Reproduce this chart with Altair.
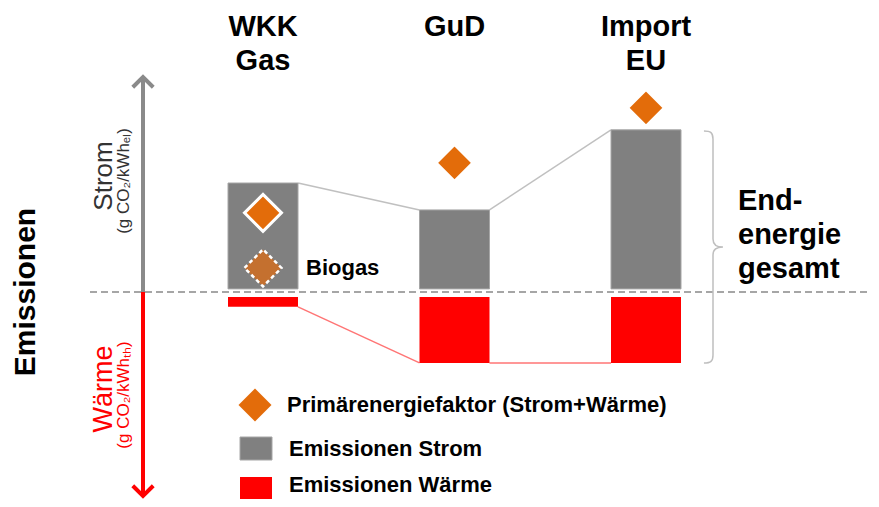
import altair as alt
import pandas as pd

# ---------------- data ----------------
categories = ["WKK Gas", "GuD", "Import EU"]
category_labels = ["WKK\nGas", "GuD", "Import\nEU"]
strom = [336, 253, 500]        # Emissionen Strom (g CO2/kWh_el), upward
waerme = [46, 219, 219]        # Emissionen Wärme (g CO2/kWh_th), downward
pef = [244, 398, 568]          # Primärenergiefaktor (Strom+Wärme) marker
biogas_pef = [74]              # Primärenergiefaktor WKK mit Biogas
legend_labels = ["Primärenergiefaktor (Strom+Wärme)", "Emissionen Strom", "Emissionen Wärme"]

GRAY = "#808080"
RED = "#ff0000"
ORANGE = "#e36c0a"
BIOGAS = "#c4702f"
FONT = "Liberation Sans"

W, H = 863, 491
xscale = alt.Scale(type="point", domain=categories, range=[255, 638], padding=0)
yscale = alt.Scale(domain=[-639, 876], nice=False, zero=False)

df = pd.DataFrame({
    "cat": categories,
    "label": category_labels,
    "strom": strom,
    "waerme": [-w for w in waerme],
    "pef": pef,
})
conn = pd.DataFrame({
    "a": categories[:-1], "b": categories[1:],
    "sa": strom[:-1], "sb": strom[1:],
    "wa": [-w for w in waerme[:-1]], "wb": [-w for w in waerme[1:]],
})
bio = pd.DataFrame({"cat": [categories[0]], "pef": biogas_pef, "label": ["Biogas"]})
one = pd.DataFrame({"k": [0]})

X = alt.X("cat:N", scale=xscale, axis=None)


def Y(f):
    return alt.Y(f, scale=yscale, axis=None)


# zero line
zero = alt.Chart(one).mark_rule(color="#a6a6a6", strokeWidth=2, strokeDash=[7, 4]).encode(
    x=alt.value(82), x2=alt.value(W), y=alt.YDatum(0, scale=yscale, axis=None)
)

# connectors
conn_s = alt.Chart(conn).mark_rule(color="#c0c0c0", strokeWidth=1.5, xOffset=35, x2Offset=-35).encode(
    x=alt.X("a:N", scale=xscale, axis=None), x2="b:N", y=Y("sa:Q"), y2="sb:Q"
)
conn_w = alt.Chart(conn).mark_rule(color="#ff7575", strokeWidth=1.5, xOffset=35, x2Offset=-35).encode(
    x=alt.X("a:N", scale=xscale, axis=None), x2="b:N", y=Y("wa:Q"), y2="wb:Q"
)

bars_s = alt.Chart(df).mark_bar(size=70, color=GRAY, stroke="#a6a6a6", strokeWidth=1, y2Offset=-3).encode(
    x=X, y=Y("strom:Q"), y2=alt.datum(0)
)
bars_w = alt.Chart(df).mark_bar(size=70, color=RED, y2Offset=5).encode(
    x=X, y=Y("waerme:Q"), y2=alt.datum(0)
)

pef_pts = alt.Chart(df).mark_point(
    shape="diamond", filled=True, fill=ORANGE, stroke="white", strokeWidth=3, size=1369, opacity=1
).encode(x=X, y=Y("pef:Q"))

bio_pt = alt.Chart(bio).mark_point(
    shape="diamond", filled=True, fill=BIOGAS, stroke="white", strokeWidth=2.5,
    strokeDash=[4, 3], size=1369, opacity=1
).encode(x=X, y=Y("pef:Q"))
bio_txt = alt.Chart(bio).mark_text(
    align="left", baseline="middle", dx=43, fontSize=22, fontWeight="bold", font=FONT, color="black"
).encode(x=X, y=Y("pef:Q"), text="label:N")

top_labels = alt.Chart(df).mark_text(
    fontSize=29, fontWeight="bold", font=FONT, lineBreak="\n", lineHeight=34,
    baseline="alphabetic", align="center", color="black"
).encode(x=X, y=alt.value(28), text="label:N")

# vertical arrow
arr_g = alt.Chart(one).mark_rule(color="#8a8a8a", strokeWidth=4).encode(
    x=alt.value(135), y=alt.value(70), y2=alt.value(284)
)
arr_r = alt.Chart(one).mark_rule(color=RED, strokeWidth=4).encode(
    x=alt.value(135), y=alt.value(284), y2=alt.value(487)
)
head_g = alt.Chart(one).mark_point(
    shape="M-1,1L0,0L1,1", filled=False, size=420, strokeWidth=4, color="#8a8a8a", opacity=1
).encode(x=alt.value(135), y=alt.value(69))
head_r = alt.Chart(one).mark_point(
    shape="M-1,-1L0,0L1,-1", filled=False, size=420, strokeWidth=4, color=RED, opacity=1
).encode(x=alt.value(135), y=alt.value(488))


def txt(s, x, y, size, color="black", weight="normal", angle=0, align="center", baseline="middle", lh=None):
    kw = dict(text=s, fontSize=size, fontWeight=weight, font=FONT, color=color, align=align, baseline=baseline)
    if angle:
        kw["angle"] = angle
    if lh:
        kw["lineHeight"] = lh
        kw["lineBreak"] = "\n"
    return alt.Chart(one).mark_text(**kw).encode(x=alt.value(x), y=alt.value(y))


t_em = txt("Emissionen", 18, 284, 30, weight="bold", angle=270)
t_strom = txt("Strom", 96, 168, 26, color="#333333", angle=270)
t_strom_u = txt("(g CO₂/kWhₑₗ)", 116, 173, 17, color="#333333", angle=270)
t_waerme = txt("Wärme", 96, 381, 27, color=RED, angle=270)
t_waerme_u = txt("(g CO₂/kWhₜₕ)", 116, 387, 17, color=RED, angle=270)
t_end = txt("End-\nenergie\ngesamt", 730, 202, 29, weight="bold", align="left", baseline="alphabetic", lh=34)

brace_path = ("M-0.078,-1 C-0.02,-1 0,-0.985 0,-0.93 L0,-0.07 C0,-0.02 0.03,0 0.086,0 "
              "C0.03,0 0,0.02 0,0.07 L0,0.93 C0,0.985 -0.02,1 -0.078,1")
brace = alt.Chart(one).mark_point(
    shape=brace_path, filled=False, size=53824, strokeWidth=1.5, color="#bfbfbf", opacity=1
).encode(x=alt.value(705), y=alt.value(239))

# legend
leg_d = alt.Chart(one).mark_point(shape="diamond", filled=True, color=ORANGE, size=1089, opacity=1).encode(
    x=alt.value(247), y=alt.value(397)
)
leg_g = alt.Chart(one).mark_rect(color=GRAY, stroke="#a6a6a6", strokeWidth=1).encode(
    x=alt.value(232), x2=alt.value(264), y=alt.value(429), y2=alt.value(452)
)
leg_r = alt.Chart(one).mark_rect(color=RED).encode(
    x=alt.value(232), x2=alt.value(264), y=alt.value(469), y2=alt.value(491)
)
leg_t1 = txt(legend_labels[0], 279, 397, 22, weight="bold", align="left")
leg_t2 = txt(legend_labels[1], 281, 441, 22, weight="bold", align="left")
leg_t3 = txt(legend_labels[2], 281, 477, 22, weight="bold", align="left")

chart = alt.layer(
    zero, conn_s, conn_w, bars_s, bars_w, pef_pts, bio_pt, bio_txt, top_labels,
    arr_g, arr_r, head_g, head_r, t_em, t_strom, t_strom_u, t_waerme, t_waerme_u, t_end,
    brace, leg_d, leg_g, leg_r, leg_t1, leg_t2, leg_t3,
).properties(
    width=W, height=H, padding=0, autosize=alt.AutoSizeParams(type="none"), background="white"
).configure_view(stroke=None)

chart.save("out.html", embed_options={"renderer": "svg", "actions": False})
